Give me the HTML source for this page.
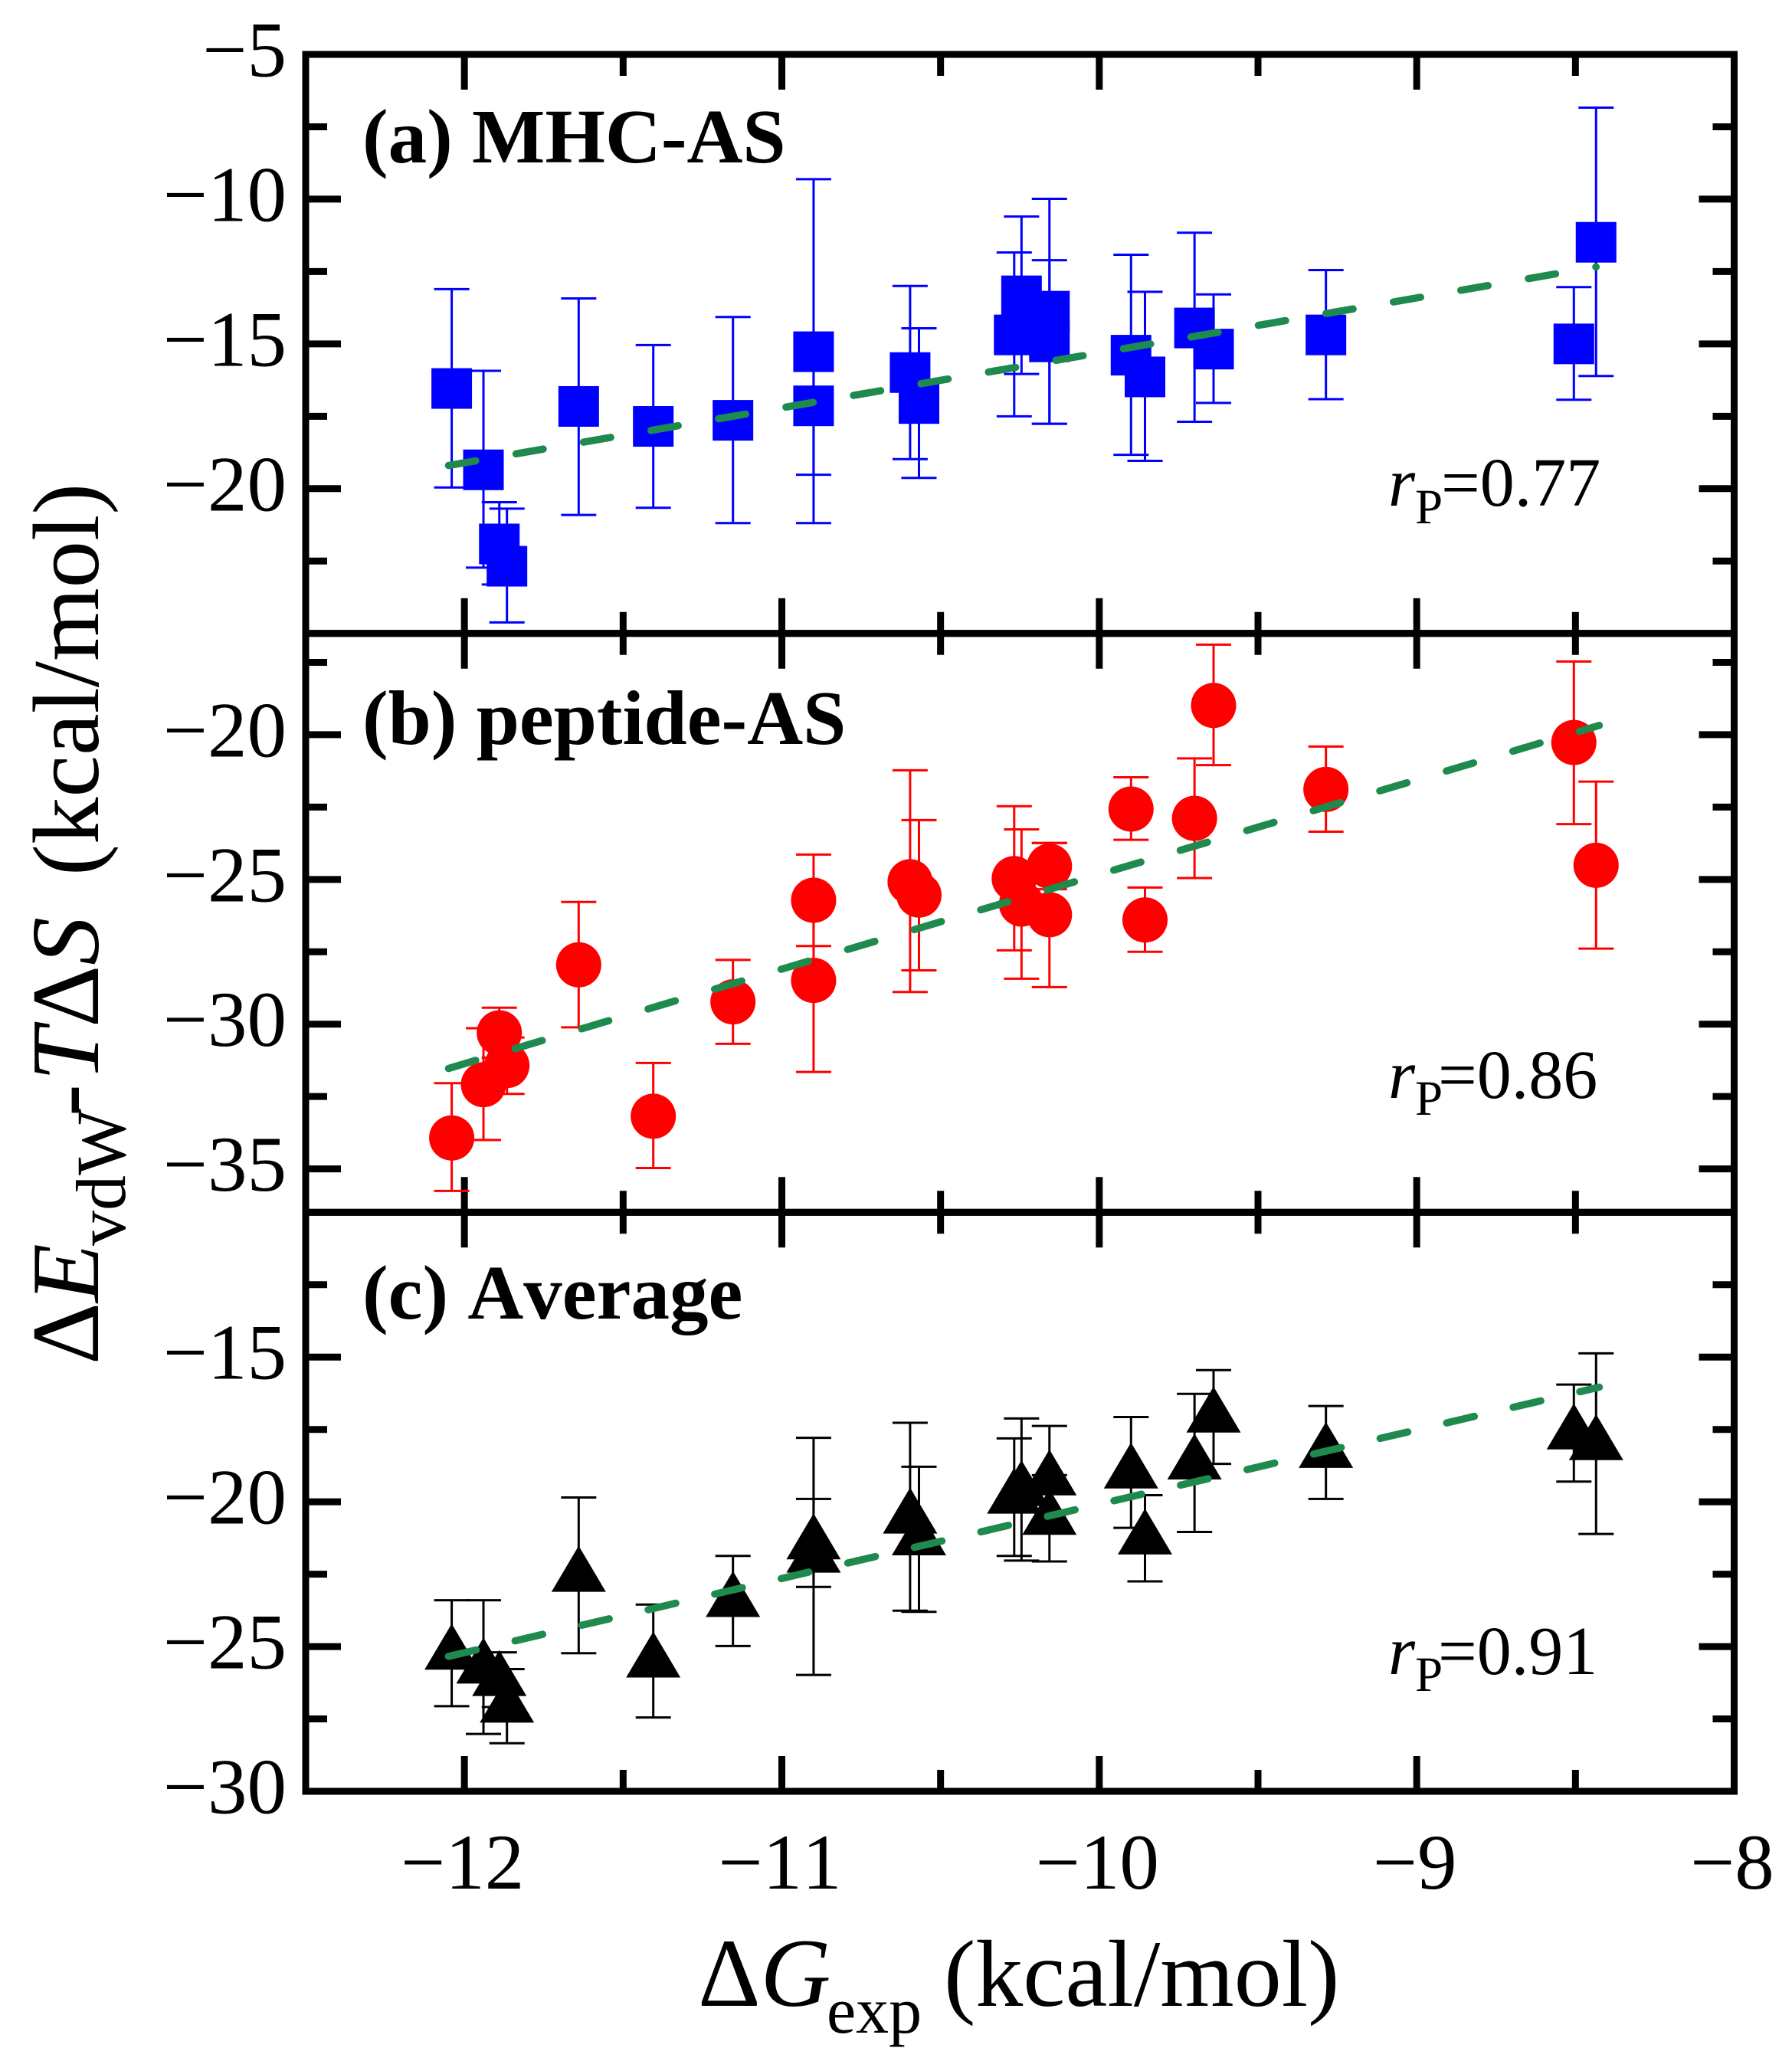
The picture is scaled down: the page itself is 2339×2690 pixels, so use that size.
<!DOCTYPE html>
<html>
<head>
<meta charset="utf-8">
<title>Binding energy correlation chart</title>
<style>
html,body{margin:0;padding:0;background:#fff;}
svg{display:block;}
text{font-family:"Liberation Serif","DejaVu Serif",serif;fill:#000;font-kerning:none;}
</style>
</head>
<body>
<svg id="chart" xmlns="http://www.w3.org/2000/svg" width="2339" height="2690" viewBox="0 0 2339 2690">
  <rect x="0" y="0" width="2339" height="2690" fill="#fff"/>
  <g id="plots"></g>

  <text x="473" y="212" font-size="101" font-weight="bold">(a) MHC-AS</text>
  <text x="473" y="971" font-size="101" font-weight="bold">(b) peptide-AS</text>
  <text x="473" y="1721" font-size="101" font-weight="bold">(c) Average</text>

  <text font-size="90" y="660"><tspan x="1812" font-style="italic">r</tspan><tspan x="1847" y="683" font-size="65">P</tspan><tspan x="1881" y="660">=0.77</tspan></text>
  <text font-size="90" y="1433"><tspan x="1812" font-style="italic">r</tspan><tspan x="1847" y="1455" font-size="65">P</tspan><tspan x="1877" y="1433">=0.86</tspan></text>
  <text font-size="90" y="2185"><tspan x="1812" font-style="italic">r</tspan><tspan x="1847" y="2207" font-size="65">P</tspan><tspan x="1877" y="2185">=0.91</tspan></text>

  <text font-size="127" y="2618"><tspan x="911">Δ</tspan><tspan font-style="italic">G</tspan><tspan x="1079" y="2653" font-size="86">exp</tspan><tspan x="1232" y="2618" font-size="124">(kcal/mol)</tspan></text>

  <text font-size="126" transform="translate(128,1781) rotate(-90)" y="0"><tspan x="0">Δ</tspan><tspan font-style="italic">E</tspan><tspan x="155" y="35" font-size="92">vdW</tspan><tspan x="324" y="0">-</tspan><tspan x="370" font-style="italic">T</tspan><tspan>Δ</tspan><tspan font-style="italic">S</tspan><tspan x="638" y="0" font-size="123">(kcal/mol)</tspan></text>
</svg>

<script>
const dgExp = [-12.04,-11.94,-11.89,-11.866,-11.64,-11.405,-11.154,-10.90,-10.90,-10.596,-10.568,-10.268,-10.245,-10.157,-10.157,-9.90,-9.856,-9.70,-9.64,-9.286,-8.505,-8.435];

const mhcValues = [-16.54,-19.35,-21.91,-22.68,-17.16,-17.85,-17.64,-15.27,-17.14,-15.99,-17.06,-14.69,-13.34,-13.87,-14.93,-15.39,-16.14,-14.45,-15.18,-14.69,-15.0,-11.49];
const mhcErrTop = [-13.11,-15.93,-20.47,-20.69,-13.43,-15.04,-14.07,-9.31,-14.76,-13.0,-14.46,-11.84,-10.6,-9.99,-12.11,-11.92,-13.2,-11.16,-13.29,-12.45,-13.04,-6.84];
const mhcErrBottom = [-19.96,-22.73,-23.31,-24.62,-20.91,-20.66,-21.19,-21.19,-19.52,-18.98,-19.63,-17.5,-16.04,-17.76,-17.76,-18.83,-19.04,-17.69,-17.04,-16.91,-16.93,-16.11];

const peptideValues = [-33.93,-32.09,-30.30,-31.43,-27.95,-33.18,-29.23,-25.72,-28.49,-25.08,-25.54,-24.97,-25.85,-24.54,-26.22,-22.57,-26.4,-22.89,-18.99,-21.89,-20.27,-24.51];
const peptideErrTop = [-32.04,-30.14,-29.43,-30.46,-25.78,-31.34,-27.78,-24.14,-25.32,-21.23,-22.95,-22.47,-23.27,-23.74,-23.74,-21.47,-25.28,-20.82,-16.89,-20.41,-17.47,-21.62];
const peptideErrBottom = [-35.76,-34.0,-31.16,-32.41,-30.11,-34.97,-30.68,-27.3,-31.65,-28.89,-28.14,-27.45,-28.43,-25.34,-28.72,-23.63,-27.5,-24.95,-21.05,-23.35,-23.09,-27.39];

const averageValues = [-25.23,-25.71,-26.14,-27.06,-22.54,-25.5,-23.41,-21.88,-21.42,-20.53,-21.28,-19.84,-19.58,-19.21,-20.57,-18.97,-21.25,-18.66,-17.04,-18.26,-17.62,-17.99];
const averageErrTop = [-23.4,-23.4,-25.2,-25.78,-19.85,-23.55,-21.87,-17.79,-19.9,-17.27,-18.79,-17.81,-17.12,-17.38,-19.08,-17.07,-19.77,-16.27,-15.45,-16.69,-15.95,-14.87];
const averageErrBottom = [-27.06,-28.02,-27.09,-28.34,-25.23,-27.45,-24.98,-25.98,-22.94,-23.76,-23.8,-21.87,-22.03,-21.03,-22.06,-20.9,-22.75,-21.04,-18.69,-19.9,-19.3,-21.11];

const mhcTrendX = [-12.05,-8.435];
const mhcTrendY = [-19.2,-12.34];
const peptideTrendX = [-12.05,-8.425];
const peptideTrendY = [-31.53,-19.68];
const averageTrendX = [-12.05,-8.425];
const averageTrendY = [-25.34,-16.04];

const xMajorTicks = [-12,-11,-10,-9,-8];
const xMinorTicks = [-11.5,-10.5,-9.5,-8.5];
const xTickLabels = ["\u221212","\u221211","\u221210","\u22129","\u22128"];

const mhcMajorTicks = [-5,-10,-15,-20];
const mhcMinorTicks = [-7.5,-12.5,-17.5,-22.5];
const mhcTickLabels = ["\u22125","\u221210","\u221215","\u221220"];

const peptideMajorTicks = [-20,-25,-30,-35];
const peptideMinorTicks = [-17.5,-22.5,-27.5,-32.5];
const peptideTickLabels = ["\u221220","\u221225","\u221230","\u221235"];

const averageMajorTicks = [-15,-20,-25,-30];
const averageMinorTicks = [-12.5,-17.5,-22.5,-27.5];
const averageTickLabels = ["\u221215","\u221220","\u221225","\u221230"];

const NS = "http://www.w3.org/2000/svg";
const root = document.getElementById("plots");
const LEFT = 399, RIGHT = 2263.5;
const xScale = v => LEFT + (v + 12.5) * (RIGHT - LEFT) / 4.5;

function make(tag, attrs, parent) {
  const el = document.createElementNS(NS, tag);
  for (const k in attrs) el.setAttribute(k, attrs[k]);
  parent.appendChild(el);
  return el;
}

function yScaleFor(top, bottom, vTop, vBottom) {
  return v => top + (vTop - v) * (bottom - top) / (vTop - vBottom);
}

function drawTick(group, x1, y1, x2, y2, name) {
  const t = make("line", {x1:x1, y1:y1, x2:x2, y2:y2, stroke:"#000", "stroke-width":9}, group);
  
  
}

function drawMarker(group, shape, cx, cy, color, name) {
  let m;
  if (shape === "square") {
    m = make("rect", {x:cx-26.5, y:cy-26.5, width:53, height:53, fill:color}, group);
  } else if (shape === "circle") {
    m = make("circle", {cx:cx, cy:cy, r:29.5, fill:color}, group);
  } else {
    m = make("polygon", {points:(cx)+","+(cy-38.5)+" "+(cx+35.5)+","+(cy+21.5)+" "+(cx-35.5)+","+(cy+21.5), fill:color}, group);
  }
  
  
}

function drawPanel(p) {
  const y = yScaleFor(p.top, p.bottom, p.vTop, p.vBottom);
  const g = make("g", {}, root);
  
  

  // ticks
  const ticks = make("g", {}, g);
  
  
  xMajorTicks.forEach(v => {
    drawTick(ticks, xScale(v), p.top, xScale(v), p.top + 46, 'x-major-tick-top');
    drawTick(ticks, xScale(v), p.bottom, xScale(v), p.bottom - 46, 'x-major-tick-bottom');
  });
  xMinorTicks.forEach(v => {
    drawTick(ticks, xScale(v), p.top, xScale(v), p.top + 28, 'x-minor-tick-top');
    drawTick(ticks, xScale(v), p.bottom, xScale(v), p.bottom - 28, 'x-minor-tick-bottom');
  });
  p.major.forEach(v => {
    drawTick(ticks, LEFT, y(v), LEFT + 46, y(v), 'y-major-tick-left');
    drawTick(ticks, RIGHT, y(v), RIGHT - 46, y(v), 'y-major-tick-right');
  });
  p.minor.forEach(v => {
    drawTick(ticks, LEFT, y(v), LEFT + 28, y(v), 'y-minor-tick-left');
    drawTick(ticks, RIGHT, y(v), RIGHT - 28, y(v), 'y-minor-tick-right');
  });

  // y tick labels
  p.major.forEach((v, i) => {
    const lab = make("text", {x:374, y:y(v) + 28.5, "font-size":103, "text-anchor":"end"}, g);
    lab.textContent = p.labels[i];
    
    
  });

  // error bars
  const bars = make("g", {stroke:p.color, "stroke-width":3, fill:"none"}, g);
  
  
  dgExp.forEach((d, i) => {
    const cx = xScale(d), yt = y(p.errTop[i]), yb = y(p.errBottom[i]);
    const bar = make("path", {d:"M"+cx+" "+yt+"V"+yb+"M"+(cx-23)+" "+yt+"H"+(cx+23)+"M"+(cx-23)+" "+yb+"H"+(cx+23)}, bars);
    
    
  });

  // markers
  const marks = make("g", {}, g);
  
  
  dgExp.forEach((d, i) => {
    drawMarker(marks, p.shape, xScale(d), y(p.values[i]), p.color, p.name + '-point');
  });

  // trend line
  const trend = make("line", {
    x1:xScale(p.trendX[0]), y1:y(p.trendY[0]), x2:xScale(p.trendX[1]), y2:y(p.trendY[1]),
    stroke:"#1e8a4e", "stroke-width":9.5, "stroke-linecap":"round", "stroke-dasharray":p.dash
  }, g);
  
  

  // frame
  const frame = make("rect", {x:LEFT, y:p.top, width:RIGHT-LEFT, height:p.bottom-p.top, fill:"none", stroke:"#000", "stroke-width":9}, g);
  
  
}

drawPanel({name:"mhc-as", top:71, bottom:826.7, vTop:-5, vBottom:-25, color:"#0000ff", shape:"square",
  values:mhcValues, errTop:mhcErrTop, errBottom:mhcErrBottom, trendX:mhcTrendX, trendY:mhcTrendY,
  major:mhcMajorTicks, minor:mhcMinorTicks, labels:mhcTickLabels, dash:"36 53.4"});
drawPanel({name:"peptide-as", top:826.7, bottom:1582.3, vTop:-16.5, vBottom:-36.5, color:"#ff0000", shape:"circle",
  values:peptideValues, errTop:peptideErrTop, errBottom:peptideErrBottom, trendX:peptideTrendX, trendY:peptideTrendY,
  major:peptideMajorTicks, minor:peptideMinorTicks, labels:peptideTickLabels, dash:"37 53.6"});
drawPanel({name:"average", top:1582.3, bottom:2338, vTop:-10, vBottom:-30, color:"#000000", shape:"triangle",
  values:averageValues, errTop:averageErrTop, errBottom:averageErrBottom, trendX:averageTrendX, trendY:averageTrendY,
  major:averageMajorTicks, minor:averageMinorTicks, labels:averageTickLabels, dash:"37 52.2"});

xMajorTicks.forEach((v, i) => {
  const lab = make("text", {x:xScale(v) - 2.5, y:2465, "font-size":103, "text-anchor":"middle"}, root);
  lab.textContent = xTickLabels[i];
  
  
});
</script>
</body>
</html>
